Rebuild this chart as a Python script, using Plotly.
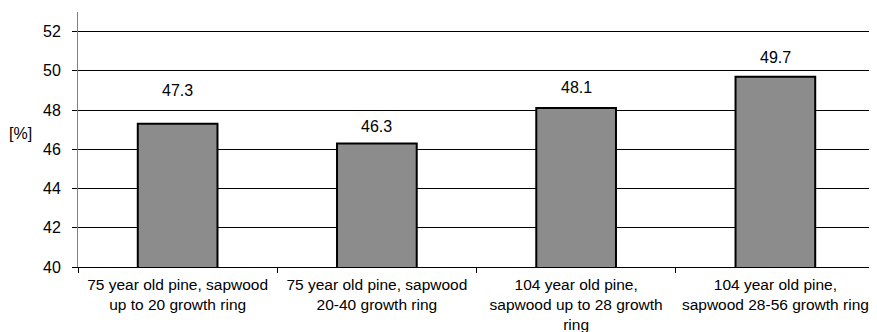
import plotly.graph_objects as go

categories = [
    "75 year old pine, sapwood<br>up to 20 growth ring",
    "75 year old pine, sapwood<br>20-40 growth ring",
    "104 year old pine,<br>sapwood up to 28 growth<br>ring",
    "104 year old pine,<br>sapwood 28-56 growth ring",
]
values = [47.3, 46.3, 48.1, 49.7]
value_labels = ["47.3", "46.3", "48.1", "49.7"]
y_ticks = [40, 42, 44, 46, 48, 50, 52]

# styling: vertical pixel shift of each data label above its bar top
label_yshift = [33, 17, 21, 19]

FONT = "Liberation Sans, Arial, sans-serif"
FS = 16
FSX = 15.5

# page body has an 8px default margin; compensate
W, H = 869, 324
L, R, T, B = 70, 2, 4, 65
PW = W - L - R
PH = H - T - B

fig = go.Figure()
fig.add_trace(go.Bar(
    x=categories, y=values,
    width=0.4,
    marker=dict(color="#8c8c8c", line=dict(color="#000000", width=2)),
    hoverinfo="skip",
))

for c, v, t, s in zip(categories, values, value_labels, label_yshift):
    fig.add_annotation(x=c, y=v, text=t, showarrow=False, xref="x", yref="y",
                       yanchor="middle", yshift=s,
                       font=dict(family=FONT, size=FS, color="#000000"))

fig.add_annotation(text="[%]", xref="paper", yref="paper",
                   x=(12 - L) / PW, y=(PH - (134 - 12)) / PH,
                   xanchor="center", yanchor="middle", showarrow=False,
                   font=dict(family=FONT, size=FS, color="#000000"))

fig.update_layout(
    width=W, height=H,
    margin=dict(l=L, r=R, t=T, b=B, pad=0, autoexpand=False),
    paper_bgcolor="white", plot_bgcolor="white",
    showlegend=False,
    font=dict(family=FONT, size=FS, color="#000000"),
)
fig.update_xaxes(
    type="category", range=[-0.5, 3.5], automargin=False,
    tickson="boundaries", ticks="outside", ticklen=5, tickcolor="#000000", tickwidth=1,
    showline=True, linecolor="#000000", linewidth=1,
    showgrid=False, zeroline=False,
    ticklabelstandoff=3,
    tickfont=dict(family=FONT, size=FSX, color="#000000"),
)
fig.update_yaxes(
    range=[40, 53], tickvals=y_ticks, ticktext=[str(t) for t in y_ticks],
    automargin=False,
    ticks="outside", ticklen=5, tickcolor="#000000", tickwidth=1,
    showline=True, linecolor="#808080", linewidth=1,
    showgrid=True, gridcolor="#000000", gridwidth=1,
    zeroline=False,
    ticklabelstandoff=8,
    tickfont=dict(family=FONT, size=FS, color="#000000"),
)

fig.write_html("out.html")
